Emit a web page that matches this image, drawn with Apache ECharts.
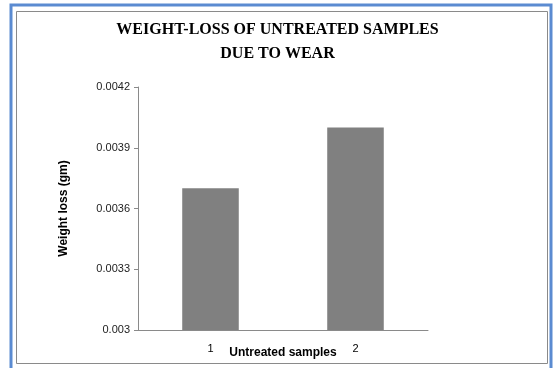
<!DOCTYPE html>
<html>
<head>
<meta charset="utf-8">
<script src="https://cdn.jsdelivr.net/npm/echarts@6/dist/echarts.min.js"></script>
<style>
html, body { margin: 0; padding: 0; background: #fff; }
#chart { width: 555px; height: 368px; }
</style>
</head>
<body>
<div id="chart"></div>
<script>
// data
var categories = ['1', '2'];
var weightLoss = [0.0037, 0.0040];
var yTicks = { min: 0.003, max: 0.0042, step: 0.0003 };

var myChart = echarts.init(document.getElementById('chart'));
var option = {
  animation: false,
  backgroundColor: '#fff',
  title: {
    text: 'WEIGHT-LOSS OF UNTREATED SAMPLES\nDUE TO WEAR',
    left: 'center',
    top: 13,
    textStyle: {
      fontFamily: 'Liberation Serif',
      fontWeight: 'bold',
      fontSize: 16,
      lineHeight: 24,
      color: '#000'
    }
  },
  // chart borders (outer blue frame, inner gray frame)
  graphic: [
    {
      type: 'rect',
      shape: { x: 11, y: 5, width: 540, height: 370 },
      style: { fill: 'none', stroke: '#5b8bd1', lineWidth: 3 }
    },
    {
      type: 'rect',
      shape: { x: 16.5, y: 11.5, width: 531, height: 352 },
      style: { fill: 'none', stroke: '#8a8a8a', lineWidth: 1 }
    }
  ],
  grid: {
    left: 138,
    right: 127,
    top: 87,
    bottom: 38,
    outerBoundsMode: 'none'
  },
  xAxis: {
    type: 'category',
    data: categories,
    name: 'Untreated samples',
    nameLocation: 'middle',
    nameGap: 17,
    nameMoveOverlap: false,
    nameTextStyle: {
      fontFamily: 'Liberation Sans',
      fontWeight: 'bold',
      fontSize: 12,
      color: '#000'
    },
    axisLine: { lineStyle: { color: '#8a8a8a' } },
    axisTick: { length: 4, lineStyle: { color: '#8a8a8a' } },
    axisLabel: {
      margin: 13,
      fontFamily: 'Liberation Sans',
      fontSize: 11,
      color: '#000'
    }
  },
  yAxis: {
    type: 'value',
    min: yTicks.min,
    max: yTicks.max,
    interval: yTicks.step,
    name: 'Weight loss (gm)',
    nameLocation: 'middle',
    nameGap: 68,
    nameMoveOverlap: false,
    nameTextStyle: {
      fontFamily: 'Liberation Sans',
      fontWeight: 'bold',
      fontSize: 12,
      color: '#000'
    },
    splitLine: { show: false },
    axisLine: { show: true, lineStyle: { color: '#8a8a8a' } },
    axisTick: { show: true, length: 4, lineStyle: { color: '#8a8a8a' } },
    axisLabel: {
      margin: 8,
      fontFamily: 'Liberation Sans',
      fontSize: 11,
      color: '#222',
      formatter: function (v) { return String(Number(v.toFixed(4))); }
    }
  },
  series: [{
    type: 'bar',
    data: weightLoss,
    barWidth: '39%',
    itemStyle: { color: '#808080' }
  }]
};
myChart.setOption(option);
</script>
</body>
</html>
